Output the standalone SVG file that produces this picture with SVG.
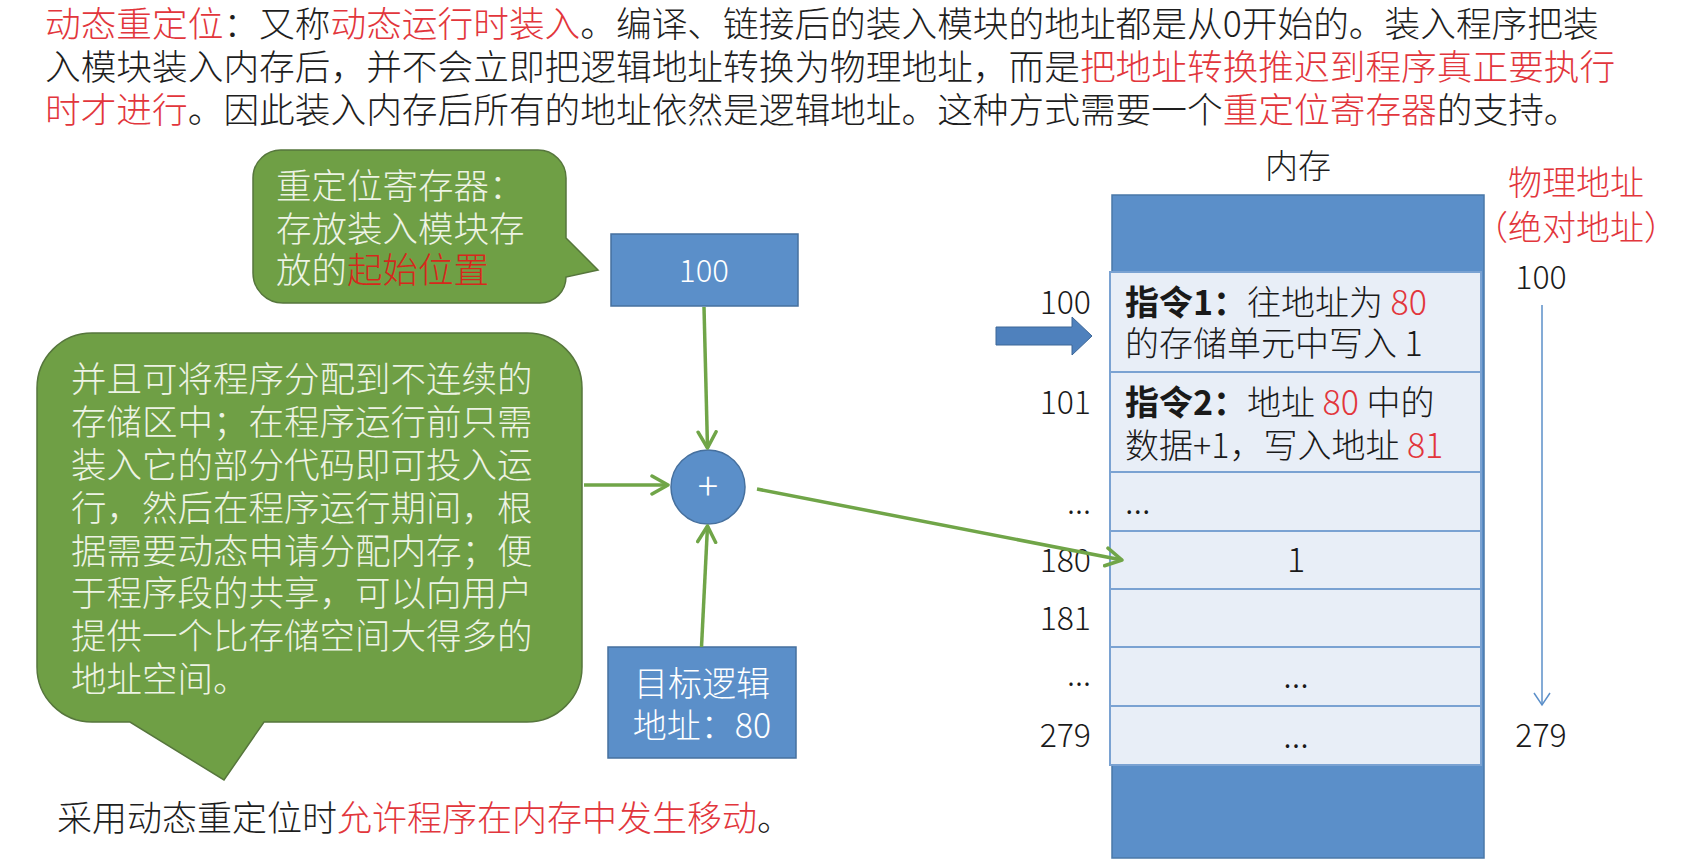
<svg xmlns="http://www.w3.org/2000/svg" width="1681" height="861" viewBox="0 0 1681 861">
<defs>
<style>
text{font-family:"Noto Sans CJK SC","Liberation Sans",sans-serif;font-weight:300;}
.t{font-size:35.7px;fill:#1e1e1e;}
.r{fill:#e2363c;}
.cb{fill:#edf3e4;font-size:35.5px;}
.cr{fill:#d6281c;}
.wb{fill:#ffffff;}
.blue{fill:#5b8fc9;stroke:#46709e;stroke-width:1.5;}
.cell{fill:#e8eef7;stroke:#7aa2d2;stroke-width:2;}
.num{font-size:32px;fill:#1a1a1a;}
.ct{font-size:34px;fill:#1a1a1a;}
.bold{font-weight:bold;}
.green{fill:#6f9f45;stroke:#56763c;stroke-width:1.5;}
.conn{stroke:#70a548;stroke-width:3.5;fill:none;marker-end:url(#ah);}
</style>
<marker id="ah" markerUnits="userSpaceOnUse" viewBox="0 0 20 22" refX="18" refY="11" markerWidth="20" markerHeight="22" orient="auto">
<path d="M2,2 L18,11 L2,20" fill="none" stroke="#70a548" stroke-width="3.5" stroke-linecap="round" stroke-linejoin="round"/>
</marker>
</defs>
<rect width="1681" height="861" fill="#ffffff"/>

<g id="title">
<text class="t" x="45" y="37"><tspan class="r">动态重定位</tspan>：又称<tspan class="r">动态运行时装入</tspan>。编译、链接后的装入模块的地址都是从0开始的。装入程序把装</text>
<text class="t" x="45" y="80">入模块装入内存后，并不会立即把逻辑地址转换为物理地址，而是<tspan class="r">把地址转换推迟到程序真正要执行</tspan></text>
<text class="t" x="45" y="123"><tspan class="r">时才进行</tspan>。因此装入内存后所有的地址依然是逻辑地址。这种方式需要一个<tspan class="r">重定位寄存器</tspan>的支持。</text>
</g>

<g id="callout-register">
<path class="green" d="M283,150 H538 A28 28 0 0 1 566 178 V238 L598 270 L566 277 V277 A26 26 0 0 1 540 303 H283 A30 30 0 0 1 253 273 V178 A28 28 0 0 1 283 150 Z"/>
<text class="cb" x="276" y="199">重定位寄存器：</text>
<text class="cb" x="276" y="242">存放装入模块存</text>
<text class="cb" x="276" y="283">放的<tspan class="cr">起始位置</tspan></text>
</g>

<g id="callout-info">
<path class="green" d="M92,333 H527 A55 55 0 0 1 582 388 V667 A55 55 0 0 1 527 722 H264 L224 780 L130 722 H92 A55 55 0 0 1 37 667 V388 A55 55 0 0 1 92 333 Z"/>
<text class="cb" x="71" y="392">并且可将程序分配到不连续的</text>
<text class="cb" x="71" y="435">存储区中；在程序运行前只需</text>
<text class="cb" x="71" y="478">装入它的部分代码即可投入运</text>
<text class="cb" x="71" y="521">行，然后在程序运行期间，根</text>
<text class="cb" x="71" y="564">据需要动态申请分配内存；便</text>
<text class="cb" x="71" y="606">于程序段的共享，可以向用户</text>
<text class="cb" x="71" y="649">提供一个比存储空间大得多的</text>
<text class="cb" x="71" y="692">地址空间。</text>
</g>

<g id="base-register">
<rect class="blue" x="611" y="234" width="187" height="72"/>
<text class="wb" x="704" y="282" font-size="31" text-anchor="middle">100</text>
</g>

<g id="adder">
<circle class="blue" cx="708" cy="487" r="37"/>
<text class="wb" x="708" y="500" font-size="38" font-weight="400" text-anchor="middle">+</text>
</g>

<g id="logical-address">
<rect class="blue" x="608" y="647" width="188" height="111"/>
<text class="wb" x="702" y="696" font-size="34" text-anchor="middle">目标逻辑</text>
<text class="wb" x="702" y="738" font-size="34" text-anchor="middle">地址：80</text>
</g>

<g id="note">
<text x="57" y="831" font-size="35" fill="#1e1e1e">采用动态重定位时<tspan class="r">允许程序在内存中发生移动</tspan>。</text>
</g>

<g id="memory">
<text x="1298" y="178" font-size="33" fill="#1e1e1e" text-anchor="middle">内存</text>
<rect x="1112" y="195" width="372" height="663" fill="#5b8fc9" stroke="#4a78a8" stroke-width="1.5"/>
<rect class="cell" x="1110" y="272" width="371" height="100"/>
<rect class="cell" x="1110" y="372" width="371" height="100"/>
<rect class="cell" x="1110" y="472" width="371" height="59"/>
<rect class="cell" x="1110" y="531" width="371" height="58"/>
<rect class="cell" x="1110" y="589" width="371" height="58"/>
<rect class="cell" x="1110" y="647" width="371" height="59"/>
<rect class="cell" x="1110" y="706" width="371" height="59"/>
<text class="ct" x="1125" y="315"><tspan class="bold">指令1：</tspan>往地址为 <tspan class="r">80</tspan></text>
<text class="ct" x="1125" y="356">的存储单元中写入 1</text>
<text class="ct" x="1125" y="415"><tspan class="bold">指令2：</tspan>地址 <tspan class="r">80</tspan> 中的</text>
<text class="ct" x="1125" y="458">数据+1，写入地址 <tspan class="r">81</tspan></text>
<text class="ct" x="1125" y="514" font-size="28">...</text>
<text class="ct" x="1296" y="572" text-anchor="middle">1</text>
<text class="ct" x="1296" y="688" font-size="28" text-anchor="middle">...</text>
<text class="ct" x="1296" y="748" font-size="28" text-anchor="middle">...</text>
</g>

<g id="addr-labels">
<text class="num" x="1091" y="314" text-anchor="end">100</text>
<text class="num" x="1091" y="414" text-anchor="end">101</text>
<text class="num" x="1091" y="514" font-size="28" text-anchor="end">...</text>
<text class="num" x="1091" y="572" text-anchor="end">180</text>
<text class="num" x="1091" y="630" text-anchor="end">181</text>
<text class="num" x="1091" y="686" font-size="28" text-anchor="end">...</text>
<text class="num" x="1091" y="747" text-anchor="end">279</text>
</g>

<g id="physical-address">
<text x="1576" y="195" font-size="34" fill="#e2363c" text-anchor="middle">物理地址</text>
<text x="1576" y="240" font-size="34" fill="#e2363c" text-anchor="middle">（绝对地址）</text>
<text class="num" x="1541" y="289" text-anchor="middle">100</text>
<text class="num" x="1541" y="747" text-anchor="middle">279</text>
<line x1="1542" y1="305" x2="1542" y2="705" stroke="#5b8fc9" stroke-width="1.5"/>
<path d="M1534,693 L1542,705 L1550,693" fill="none" stroke="#5b8fc9" stroke-width="1.5"/>
</g>

<g id="pointer-arrow">
<path d="M996,327 H1072 V317 L1092,336 L1072,355 V345 H996 Z" fill="#4f81bd" stroke="#3d6797" stroke-width="1"/>
</g>

<g id="connectors">
<line class="conn" x1="704" y1="307" x2="707.5" y2="448"/>
<line class="conn" x1="584" y1="485" x2="668" y2="485"/>
<line class="conn" x1="701.5" y1="647" x2="707.5" y2="526"/>
<line class="conn" x1="757" y1="489" x2="1122" y2="560"/>
</g>
</svg>
